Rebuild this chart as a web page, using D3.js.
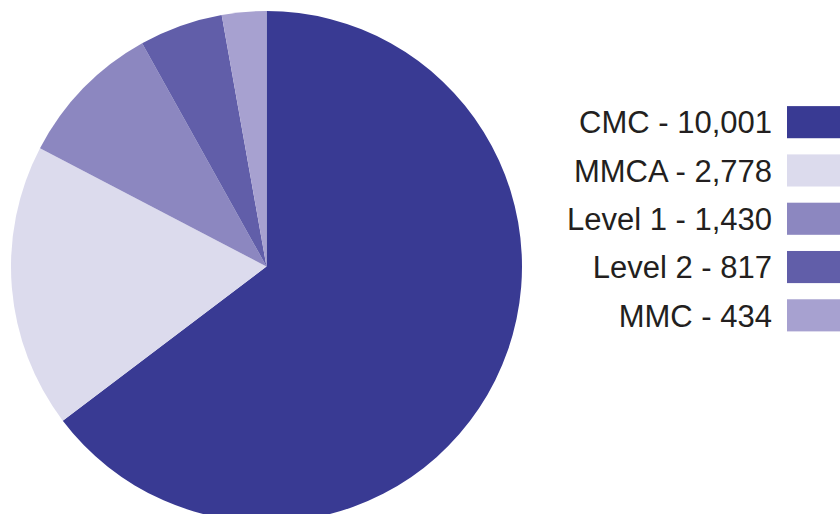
<!DOCTYPE html>
<html>
<head>
<meta charset="utf-8">
<script src="https://cdn.jsdelivr.net/npm/d3@7"></script>
<style>
    body { margin: 0; background: #fff; }
    svg { display: block; }
</style>
</head>
<body>
<svg id="pie"></svg>
<script>
// chart data
const categories = ["CMC", "MMCA", "Level 1", "Level 2", "MMC"];
const values = [10001, 2778, 1430, 817, 434];
const colors = ["#393a93", "#dcdbed", "#8c87c0", "#615ea9", "#a7a1d0"];

// canvas
const width = 840;
const height = 514;

let svg = d3.select("#pie")
    .attr("width", width)
    .attr("height", height);

// pie properties
const cx = 266.5, cy = 266.5, radius = 255.5;

let data = categories.map(function (c, i) {
    return { name: c, value: values[i], color: colors[i] };
});

let pie = d3.pie()
    .sort(null)
    .value(function (d) { return d.value; });

let arc = d3.arc()
    .innerRadius(0)
    .outerRadius(radius);

// draw slices
svg.append("g")
    .attr("transform", "translate(" + cx + "," + cy + ")")
    .selectAll("path")
    .data(pie(data))
    .enter().append("path")
    .attr("d", arc)
    .attr("fill", function (d) { return d.data.color; });

// legend
const fmt = d3.format(",");
let y = d3.scaleBand()
    .domain(categories)
    .range([98, 98 + 48.3 * categories.length])
    .paddingInner(0.335)
    .paddingOuter(0.168);

let legend = svg.append("g");

legend.selectAll("rect")
    .data(data)
    .enter().append("rect")
    .attr("x", 787)
    .attr("y", function (d) { return y(d.name); })
    .attr("width", 60)
    .attr("height", y.bandwidth())
    .attr("fill", function (d) { return d.color; });

legend.selectAll("text")
    .data(data)
    .enter().append("text")
    .attr("x", 772)
    .attr("y", function (d) { return y(d.name) + y.bandwidth() / 2 + 11.3; })
    .attr("text-anchor", "end")
    .attr("font-family", "Liberation Sans, Arial, sans-serif")
    .attr("font-size", 31)
    .attr("fill", "#231f20")
    .text(function (d) { return d.name + " - " + fmt(d.value); });
</script>
</body>
</html>
